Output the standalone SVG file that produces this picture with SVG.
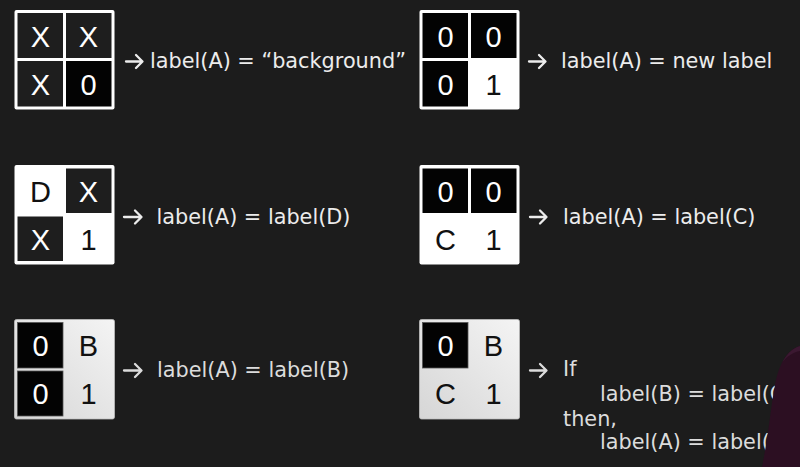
<svg xmlns="http://www.w3.org/2000/svg" width="800" height="467" viewBox="0 0 800 467">
<defs>
<style>
.bg{fill:#1c1c1c}
.frame{fill:#ffffff}
.frameg{fill:url(#gl)}
.dk{fill:#1e1e1e}
.bk{fill:#030303}
.cw{font-family:"Liberation Sans",Arial,sans-serif;font-size:29px;text-anchor:middle}
.cl{fill:#ffffff}
.cd{fill:#111111}
.t{font-family:"DejaVu Sans",Verdana,sans-serif;font-size:20.8px;fill:#ececec}
.t2{font-family:"DejaVu Sans",Verdana,sans-serif;font-size:20.8px;fill:#dcdcdc}
.arr{fill:none;stroke:#ececec;stroke-width:2.3;stroke-linecap:round;stroke-linejoin:round}
.arr2{fill:none;stroke:#dcdcdc;stroke-width:2.3;stroke-linecap:round;stroke-linejoin:round}
</style>
<linearGradient id="gl" x1="0" y1="1" x2="1" y2="0">
<stop offset="0" stop-color="#d6d6d6"/>
<stop offset="1" stop-color="#f4f4f4"/>
</linearGradient>
</defs>
<rect class="bg" x="0" y="0" width="800" height="467"/>

<g id="grid1">
<rect class="frame" x="14.5" y="10" width="100" height="99.5" rx="2"/>
<rect class="dk" x="17.5" y="13" width="45.5" height="45"/>
<rect class="dk" x="66" y="13" width="45.5" height="45"/>
<rect class="dk" x="17.5" y="61" width="45.5" height="45.5"/>
<rect class="bk" x="66" y="61" width="45.5" height="45.5"/>
<text class="cw cl" x="40.5" y="46.5">X</text>
<text class="cw cl" x="88.5" y="46.5">X</text>
<text class="cw cl" x="40.5" y="95">X</text>
<text class="cw cl" x="88.5" y="95">0</text>
</g>

<g id="grid2">
<rect class="frame" x="419.5" y="10" width="100" height="99.5" rx="2"/>
<rect class="bk" x="422.5" y="13" width="45.5" height="45"/>
<rect class="bk" x="471" y="13" width="45.5" height="45"/>
<rect class="bk" x="422.5" y="61" width="45.5" height="45.5"/>
<text class="cw cl" x="445.5" y="46.5">0</text>
<text class="cw cl" x="493.5" y="46.5">0</text>
<text class="cw cl" x="445.5" y="95">0</text>
<text class="cw cd" x="493.5" y="95">1</text>
</g>

<g id="grid3">
<rect class="frame" x="14.5" y="165" width="100" height="99.5" rx="2"/>
<rect class="dk" x="66" y="168.5" width="45.5" height="44.5"/>
<rect class="dk" x="17.5" y="216.5" width="45.5" height="44.5"/>
<text class="cw cd" x="40.5" y="201.5">D</text>
<text class="cw cl" x="88.5" y="201.5">X</text>
<text class="cw cl" x="40.5" y="249.5">X</text>
<text class="cw cd" x="88.5" y="249.5">1</text>
</g>

<g id="grid4">
<rect class="frame" x="419.5" y="165" width="100" height="99.5" rx="2"/>
<rect class="bk" x="422.5" y="168.5" width="45.5" height="44.5"/>
<rect class="bk" x="471" y="168.5" width="45.5" height="44.5"/>
<text class="cw cl" x="445.5" y="201.5">0</text>
<text class="cw cl" x="493.5" y="201.5">0</text>
<text class="cw cd" x="445.5" y="249.5">C</text>
<text class="cw cd" x="493.5" y="249.5">1</text>
</g>

<g id="grid5">
<rect class="frameg" x="14.5" y="319.5" width="100" height="99.5" rx="2" stroke="#bdbdbd" stroke-width="0.8"/>
<rect class="bk" x="17.5" y="322.5" width="45.5" height="45.5" stroke="#555" stroke-width="0.8"/>
<rect class="bk" x="17.5" y="371" width="45.5" height="45" stroke="#555" stroke-width="0.8"/>
<text class="cw cl" x="40.5" y="355.5">0</text>
<text class="cw cd" x="88.5" y="355.5">B</text>
<text class="cw cl" x="40.5" y="404">0</text>
<text class="cw cd" x="88.5" y="404">1</text>
</g>

<g id="grid6">
<rect class="frameg" x="419.5" y="319.5" width="100" height="99.5" rx="2" stroke="#bdbdbd" stroke-width="0.8"/>
<rect class="bk" x="422.5" y="322.5" width="45.5" height="45.5" stroke="#555" stroke-width="0.8"/>
<text class="cw cl" x="445.5" y="355.5">0</text>
<text class="cw cd" x="493.5" y="355.5">B</text>
<text class="cw cd" x="445.5" y="404">C</text>
<text class="cw cd" x="493.5" y="404">1</text>
</g>

<g id="connectors">
<path class="arr" d="M126,61.5 H142 M136,55 L142.5,61.5 L136,68"/>
<path class="arr" d="M529,61.5 H545 M539,55 L545.5,61.5 L539,68"/>
<path class="arr" d="M124,217 H141 M135,210.5 L141.5,217 L135,223.5"/>
<path class="arr" d="M530,217 H546 M540,210.5 L546.5,217 L540,223.5"/>
<path class="arr2" d="M124,370.5 H141 M135,364 L141.5,370.5 L135,377"/>
<path class="arr2" d="M530,370.5 H546 M540,364 L546.5,370.5 L540,377"/>
</g>

<g id="labels">
<text class="t" x="150" y="68">label(A) = “background”</text>
<text class="t" x="561" y="68">label(A) = new label</text>
<text class="t" x="156.5" y="223.5">label(A) = label(D)</text>
<text class="t" x="563" y="223.5">label(A) = label(C)</text>
<text class="t2" x="157" y="377">label(A) = label(B)</text>
<text class="t2" x="563" y="376">If</text>
<text class="t2" x="600" y="401">label(B) = label(C)</text>
<text class="t2" x="563" y="426">then,</text>
<text class="t2" x="600" y="449">label(A) = label(C)</text>
</g>

<path d="M800,346 C788,349 779,363 775,385 C771,405 768,440 762,467 L800,467 Z" fill="#2c0f22"/>
<path d="M800,346 C792,348 786,355 782,363 C786,357 793,352 800,351 Z" fill="#3b1831"/>
</svg>
